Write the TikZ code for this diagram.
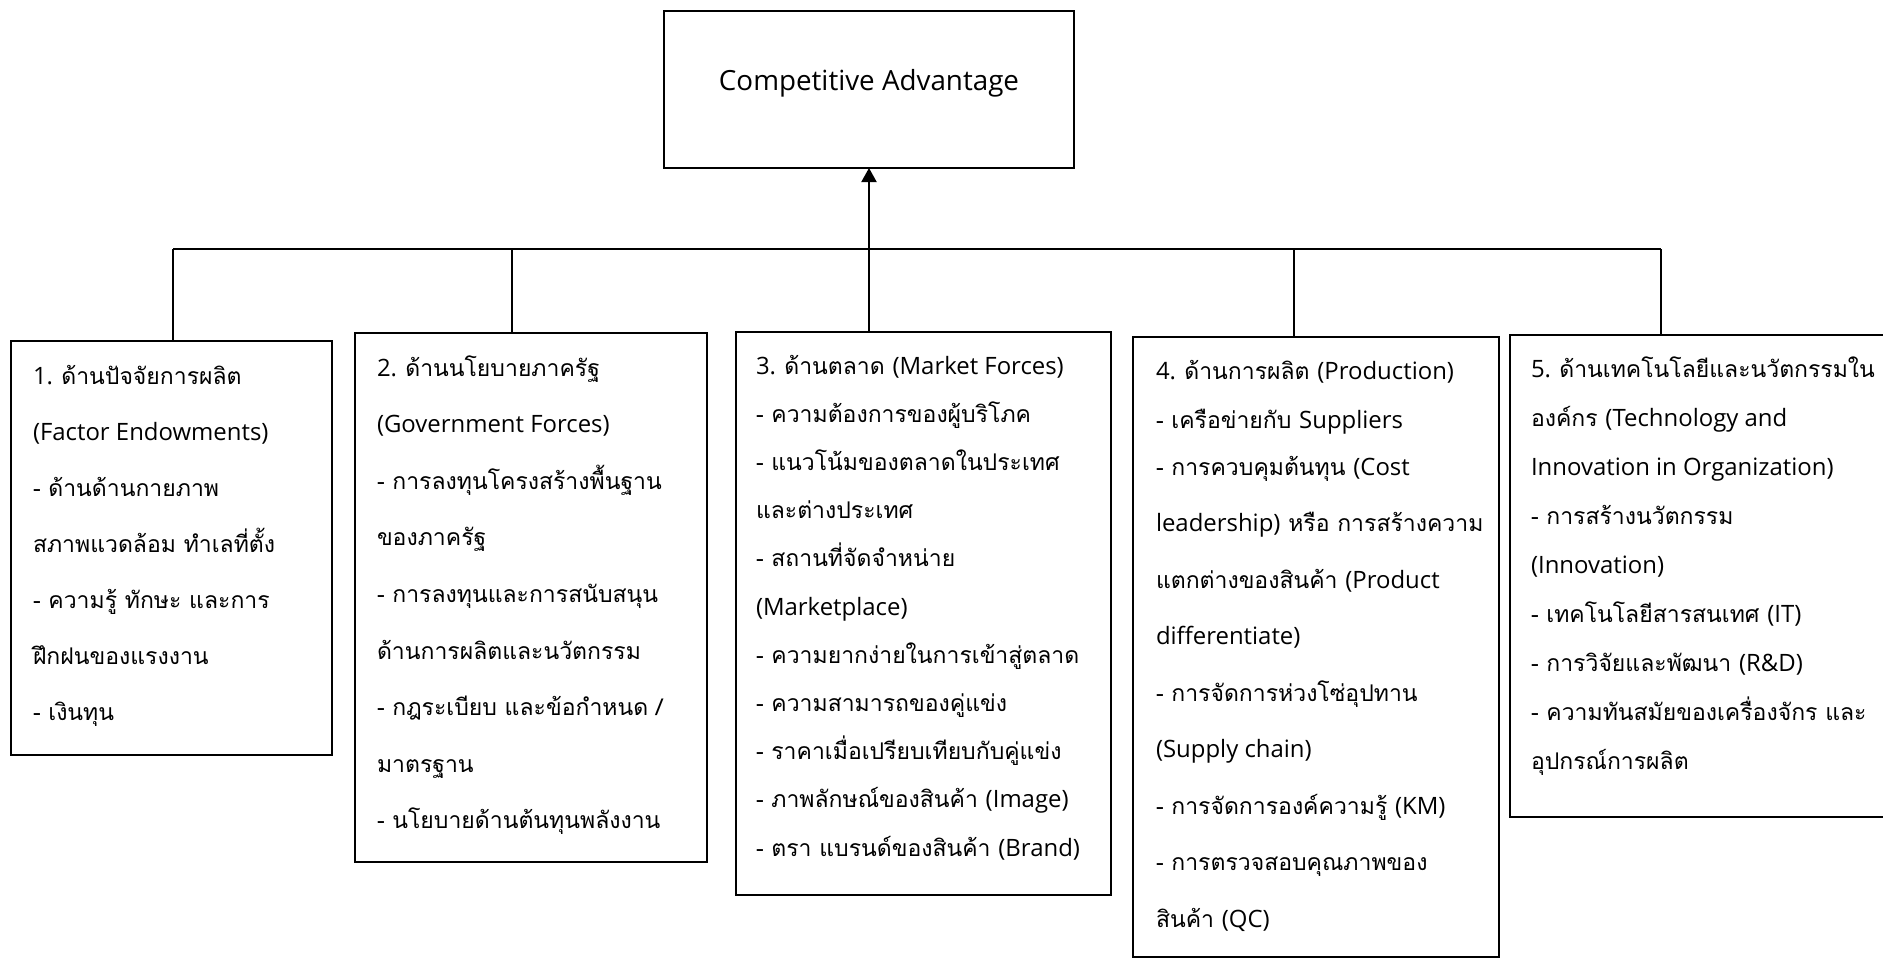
\documentclass[tikz,border=0pt]{standalone}
\usepackage{fontspec}
\setmainfont{Loma}[Script=Thai]
\newfontfamily\enfont{Open Sans}[Scale=1.04]
\usetikzlibrary{arrows.meta}
\newcommand\EN[1]{{\enfont #1}}
\newcommand\boxtext[3]{\parbox[t]{#1}{\fontsize{23}{#2}\selectfont\raggedright #3}}
\begin{document}
\begin{tikzpicture}[x=1pt,y=-1pt,
  frame/.style={draw=black, line width=2pt, inner sep=0pt, outer sep=0pt, anchor=north west},
  conn/.style={draw=black, line width=2pt},
  txt/.style={anchor=base west, inner sep=0pt, outer sep=0pt}]
\useasboundingbox (0,0) rectangle (1883,958);

% boxes
\node[frame, minimum width=410pt, minimum height=157pt] (top) at (664,11) {};
\node[frame, minimum width=321pt, minimum height=414pt] (b1) at (11,341) {};
\node[frame, minimum width=352pt, minimum height=529pt] (b2) at (355,333) {};
\node[frame, minimum width=375pt, minimum height=563pt] (b3) at (736,332) {};
\node[frame, minimum width=366pt, minimum height=620pt] (b4) at (1133,337) {};
\node[frame, minimum width=376pt, minimum height=482pt] (b5) at (1510,335) {};

% title
\node[inner sep=0pt, anchor=base, font=\enfont\fontsize{26.7}{32}\selectfont] (title) at (869,91) {Competitive Advantage};

% connectors
\coordinate (j1) at (173,249);
\coordinate (j2) at (512,249);
\coordinate (j3) at (top.south |- j1);
\coordinate (j4) at (1294,249);
\coordinate (j5) at (1661,249);
\draw[conn] (j1) -- (j5);
\draw[conn] (j1) -- (j1 |- b1.north);
\draw[conn] (j2) -- (j2 |- b2.north);
\draw[conn] (j4) -- (j4 |- b4.north);
\draw[conn] (j5) -- (j5 |- b5.north);
\draw[conn, -{Triangle[length=14pt,width=15pt]}] (j3 |- b3.north) -- (top.south);

% texts
\node[txt] (t1) at (33,384) {\boxtext{310pt}{56}{%
\EN{1. }ด้านปัจจัยการผลิต\\
\EN{(Factor Endowments)}\\
- ด้านด้านกายภาพ\\
สภาพแวดล้อม ทำเลที่ตั้ง\\
- ความรู้ ทักษะ และการ\\
ฝึกฝนของแรงงาน\\
- เงินทุน}};

\node[txt] (t2) at (377,376) {\boxtext{340pt}{56.6}{%
\EN{2. }ด้านนโยบายภาครัฐ\\
\EN{(Government Forces)}\\
- การลงทุนโครงสร้างพื้นฐาน\\
ของภาครัฐ\\
- การลงทุนและการสนับสนุน\\
ด้านการผลิตและนวัตกรรม\\
- กฎระเบียบ และข้อกำหนด /\\
มาตรฐาน\\
- นโยบายด้านต้นทุนพลังงาน}};

\node[txt] (t3) at (756,374) {\boxtext{360pt}{48.2}{%
\EN{3. }ด้านตลาด \EN{(Market Forces)}\\
- ความต้องการของผู้บริโภค\\
- แนวโน้มของตลาดในประเทศ\\
และต่างประเทศ\\
- สถานที่จัดจำหน่าย\\
\EN{(Marketplace)}\\
- ความยากง่ายในการเข้าสู่ตลาด\\
- ความสามารถของคู่แข่ง\\
- ราคาเมื่อเปรียบเทียบกับคู่แข่ง\\
- ภาพลักษณ์ของสินค้า \EN{(Image)}\\
- ตรา แบรนด์ของสินค้า \EN{(Brand)}}};

\node[txt] (t4) at (1156,379) {\boxtext{350pt}{56.5}{%
\EN{4. }ด้านการผลิต \EN{(Production)}\\[-7.5pt]
- เครือข่ายกับ \EN{Suppliers}\\[-9.5pt]
- การควบคุมต้นทุน \EN{(Cost}\\
\EN{leadership)} หรือ การสร้างความ\\
แตกต่างของสินค้า \EN{(Product}\\
\EN{differentiate)}\\
- การจัดการห่วงโซ่อุปทาน\\
\EN{(Supply chain)}\\
- การจัดการองค์ความรู้ \EN{(KM)}\\
- การตรวจสอบคุณภาพของ\\
สินค้า \EN{(QC)}}};

\node[txt] (t5) at (1531,377) {\boxtext{350pt}{49}{%
\EN{5. }ด้านเทคโนโลยีและนวัตกรรมใน\\
องค์กร \EN{(Technology and}\\
\EN{Innovation in Organization)}\\
- การสร้างนวัตกรรม\\
\EN{(Innovation)}\\
- เทคโนโลยีสารสนเทศ \EN{(IT)}\\
- การวิจัยและพัฒนา \EN{(R\&D)}\\
- ความทันสมัยของเครื่องจักร และ\\
อุปกรณ์การผลิต}};
\end{tikzpicture}
\end{document}
